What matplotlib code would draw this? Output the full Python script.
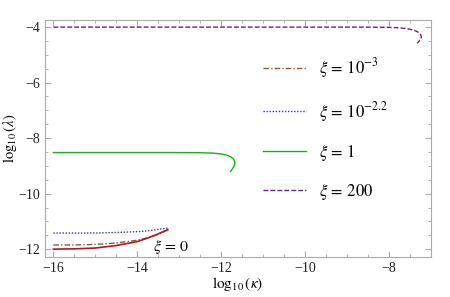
import matplotlib
matplotlib.use("Agg")
import matplotlib.pyplot as plt
from matplotlib.ticker import MultipleLocator

plt.rcParams['font.family'] = ['Liberation Serif', 'DejaVu Serif']
plt.rcParams['mathtext.fontset'] = 'stix'

# xi = 0
k0 = [-16.0, -15.5, -15.0, -14.5, -14.0, -13.75, -13.5, -13.27]
l0 = [-12.0, -11.99, -11.96, -11.87, -11.73, -11.6, -11.45, -11.3]

# xi = 1e-3
k1 = [-16.0, -15.5, -15.0, -14.5, -14.0, -13.75, -13.5, -13.27]
l1 = [-11.85, -11.85, -11.83, -11.78, -11.68, -11.59, -11.47, -11.3]

# xi = 10^-2.2
k2 = [-16.0, -15.5, -15.0, -14.5, -14.0, -13.75, -13.5, -13.27]
l2 = [-11.42, -11.42, -11.42, -11.40, -11.37, -11.34, -11.29, -11.24]

# xi = 1
k3 = [-16.0, -15.0, -14.0, -13.0, -12.5, -12.2, -12.0, -11.85, -11.76, -11.7, -11.67, -11.68, -11.71, -11.74, -11.77]
l3 = [-8.52, -8.52, -8.52, -8.52, -8.525, -8.54, -8.57, -8.62, -8.68, -8.76, -8.88, -8.98, -9.06, -9.13, -9.2]

# xi = 200
k4 = [-16.0, -14.0, -12.0, -10.0, -8.5, -8.0, -7.8, -7.6, -7.45, -7.35, -7.28, -7.24, -7.22, -7.24, -7.28, -7.32]
l4 = [-4.0, -4.0, -4.0, -4.0, -4.0, -4.01, -4.02, -4.05, -4.09, -4.14, -4.2, -4.27, -4.35, -4.44, -4.51, -4.58]

fig, ax = plt.subplots(figsize=(4.5, 2.97), dpi=100)
fig.subplots_adjust(left=0.1, right=0.957, top=0.933, bottom=0.135)

ax.plot(k1, l1, color='#8b5a3c', lw=1, dashes=[4, 1.5, 1, 1.5], label=r'$\xi\,=\,10^{-3}$')
ax.plot(k2, l2, color='#3030dd', lw=1, linestyle=(0, (1, 1.2)), label=r'$\xi\,=\,10^{-2.2}$')
ax.plot(k3, l3, color='#18b018', lw=1, label=r'$\xi\,=\,1$')
ax.plot(k4, l4, color='#6e2272', lw=1, dashes=[3.5, 1.5], label=r'$\xi\,=\,200$')
ax.plot(k0, l0, color='#b01a1a', lw=1.2)

ax.text(-13.63, -11.93, r'$\xi\,=\,0$', fontsize=11.5, ha='left', va='center')

ax.set_xlim(-16.2, -7.0)
ax.set_ylim(-12.28, -3.74)
ax.xaxis.set_major_locator(MultipleLocator(2))
ax.xaxis.set_minor_locator(MultipleLocator(0.5))
ax.yaxis.set_major_locator(MultipleLocator(2))
ax.yaxis.set_minor_locator(MultipleLocator(0.5))
ax.tick_params(which='both', direction='in', top=True, right=True, color='#aaaaaa', labelsize=10, labelcolor='#222222')
ax.tick_params(which='major', length=4)
ax.tick_params(which='minor', length=2)
for s in ax.spines.values():
    s.set_color('#aaaaaa')

ax.set_xlabel(r'$\log_{10}(\kappa)$', fontsize=11)
ax.set_ylabel(r'$\log_{10}(\lambda)$', fontsize=10.5)
ax.xaxis.set_label_coords(0.5, -0.075)
ax.yaxis.set_label_coords(-0.068, 0.5)

ax.legend(loc='upper left', bbox_to_anchor=(0.543, 0.881), frameon=False, fontsize=12,
          handlelength=2.6, handletextpad=0.8, labelspacing=1.15, borderpad=0)

fig.savefig('out.png', dpi=100)
